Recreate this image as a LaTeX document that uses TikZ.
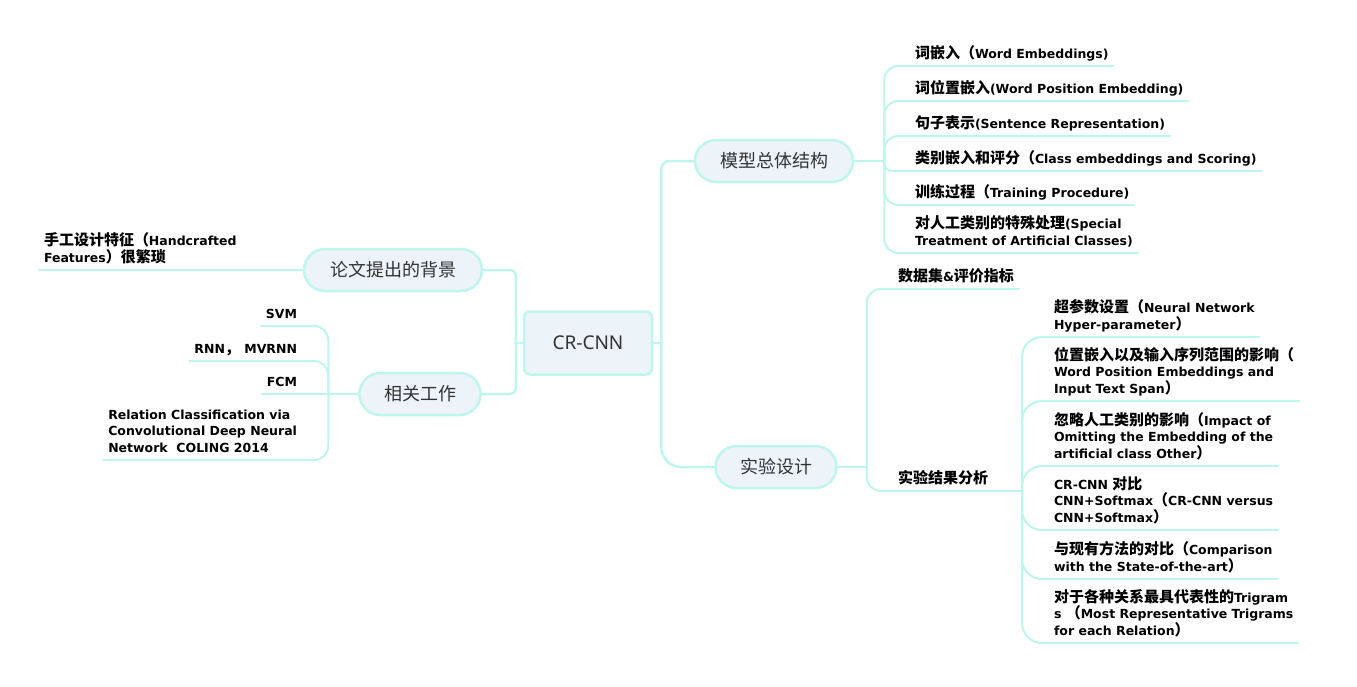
\documentclass[tikz,border=0pt]{standalone}
\usepackage{fontspec}
\setmainfont{DejaVu Sans}
\newfontfamily\cjk[Scale=1.2]{Noto Sans CJK SC Bold}
\newfontfamily\cjkr[Scale=1.2]{Noto Sans CJK SC}
\newfontfamily\cjkm{Noto Sans CJK SC}
\newfontfamily\latm{Noto Sans}
\usetikzlibrary{positioning}
\definecolor{linkc}{RGB}{190,245,236}
\definecolor{topicc}{RGB}{236,243,249}
\definecolor{inkc}{RGB}{51,51,51}

\begin{document}
\begin{tikzpicture}[x=1pt, y=-1pt, line cap=round,
    link/.style={draw=linkc, line width=2pt, rounded corners=14pt},
    topic/.style={draw=linkc, line width=2.5pt, fill=topicc, text=inkc, minimum height=42pt,
        rounded corners=21pt, font=\fontsize{18}{20}\selectfont\cjkm},
    leaf/.style={inner sep=0pt, outer xsep=5pt, outer ysep=3pt, align=left,
        font=\fontsize{12.5}{16.3}\selectfont\bfseries, execute at end node=\strut}]
    \useasboundingbox (0,0) rectangle (1357,686);

    % main topics
    \node[topic, minimum width=128pt, minimum height=63pt, rounded corners=6pt,
        font=\fontsize{19}{21}\selectfont\latm] (cr) at (588,343) {CR-CNN};
    \node[topic, minimum width=178pt] (bg) at (393,270) {论文提出的背景};
    \node[topic, minimum width=121pt] (rw) at (420,394) {相关工作};
    \node[topic, minimum width=158pt] (mdl) at (774,161) {模型总体结构};
    \node[topic, minimum width=121pt] (exp) at (776,467) {实验设计};

    % left side
    \node[leaf, anchor=south west] (hand) at (39,270) {{\cjk 手工设计特征（}Handcrafted\\Features{\cjk ）很繁琐}};
    \node[leaf, anchor=south east] (svm) at (302,326) {SVM};
    \node[leaf, anchor=south east] (rnn) at (302,361) {RNN{\cjk ，} MVRNN};
    \node[leaf, anchor=south east] (fcm) at (302,394) {FCM};
    \node[leaf, anchor=south east] (rcv) at (302,460) {Relation Classification via\\Convolutional Deep Neural\\Network \ COLING 2014};

    % model structure
    \node[leaf, anchor=south west] (emb) at (910,66) {{\cjk 词嵌入（}Word Embeddings)};
    \node[leaf, anchor=south west] (pos) at (910,101) {{\cjk 词位置嵌入}(Word Position Embedding)};
    \node[leaf, anchor=south west] (sen) at (910,136) {{\cjk 句子表示}(Sentence Representation)};
    \node[leaf, anchor=south west] (cls) at (910,171) {{\cjk 类别嵌入和评分（}Class embeddings and Scoring)};
    \node[leaf, anchor=south west] (trn) at (910,205) {{\cjk 训练过程（}Training Procedure)};
    \node[leaf, anchor=south west] (art) at (910,253) {{\cjk 对人工类别的特殊处理}(Special\\Treatment of Artificial Classes)};

    % experiments
    \node[leaf, anchor=south west] (dat) at (893,289) {{\cjk 数据集}\&{\cjk 评价指标}};
    \node[leaf, anchor=south west] (res) at (893,491) {{\cjk 实验结果分析}};
    \node[leaf, anchor=south west] (hyp) at (1049,337) {{\cjkr 超参数设置（}Neural Network\\Hyper-parameter{\cjkr ）}};
    \node[leaf, anchor=south west] (spn) at (1049,401) {{\cjkr 位置嵌入以及输入序列范围的影响（}\\Word Position Embeddings and\\Input Text Span{\cjkr ）}};
    \node[leaf, anchor=south west] (omt) at (1049,466) {{\cjkr 忽略人工类别的影响（}Impact of\\Omitting the Embedding of the\\artificial class Other{\cjkr ）}};
    \node[leaf, anchor=south west] (vs) at (1049,530) {CR-CNN {\cjkr 对比}\\CNN+Softmax{\cjkr （}CR-CNN versus\\CNN+Softmax{\cjkr ）}};
    \node[leaf, anchor=south west] (sota) at (1049,579) {{\cjkr 与现有方法的对比（}Comparison\\with the State-of-the-art{\cjkr ）}};
    \node[leaf, anchor=south west] (tri) at (1049,643) {{\cjkr 对于各种关系最具代表性的}Trigram\\s {\cjkr （}Most Representative Trigrams\\for each Relation{\cjkr ）}};

    % connectors
    \coordinate (hubL) at ([xshift=-7pt]cr.west);
    \coordinate (hubR) at ([xshift=8pt]cr.east);
    \draw[link, line width=2.5pt] (cr.west) -- (hubL);
    \draw[link, line width=2.5pt] (cr.east) -- (hubR);
    \draw[link, line width=2.5pt, rounded corners=6pt] (hubL) |- (bg.east);
    \draw[link, line width=2.5pt, rounded corners=6pt] (hubL) |- (rw.east);
    \draw[link, line width=2.5pt, rounded corners=8pt] (hubR) |- (mdl.west);
    \draw[link, line width=2.5pt, rounded corners=20pt] (hubR) |- (exp.west);

    \draw[link] (bg.west) -- (hand.south west);
    \coordinate (busW) at ([xshift=-30pt]rw.west);
    \draw[link] (rw.west) -- (busW);
    \foreach \n in {svm, rnn, rcv}
        \draw[link] (busW) |- (\n.south west);
    \draw[link] (busW) -- (fcm.south west);

    \coordinate (busM) at ([xshift=30pt]mdl.east);
    \draw[link] (mdl.east) -- (busM);
    \foreach \n in {emb, pos, sen, trn, art}
        \draw[link] (busM) |- (\n.south east);
    \draw[link, rounded corners=8pt] (busM) |- (cls.south east);

    \coordinate (busE) at ([xshift=29pt]exp.east);
    \coordinate (busR) at (1022,491);
    \draw[link] (exp.east) -- (busE);
    \draw[link] (busE) |- (dat.south east);
    \draw[link] (busE) |- (busR);
    \foreach \n in {hyp, spn, omt, vs, sota, tri}
        \draw[link, rounded corners=20pt] (busR) |- (\n.south east);
\end{tikzpicture}
\end{document}
